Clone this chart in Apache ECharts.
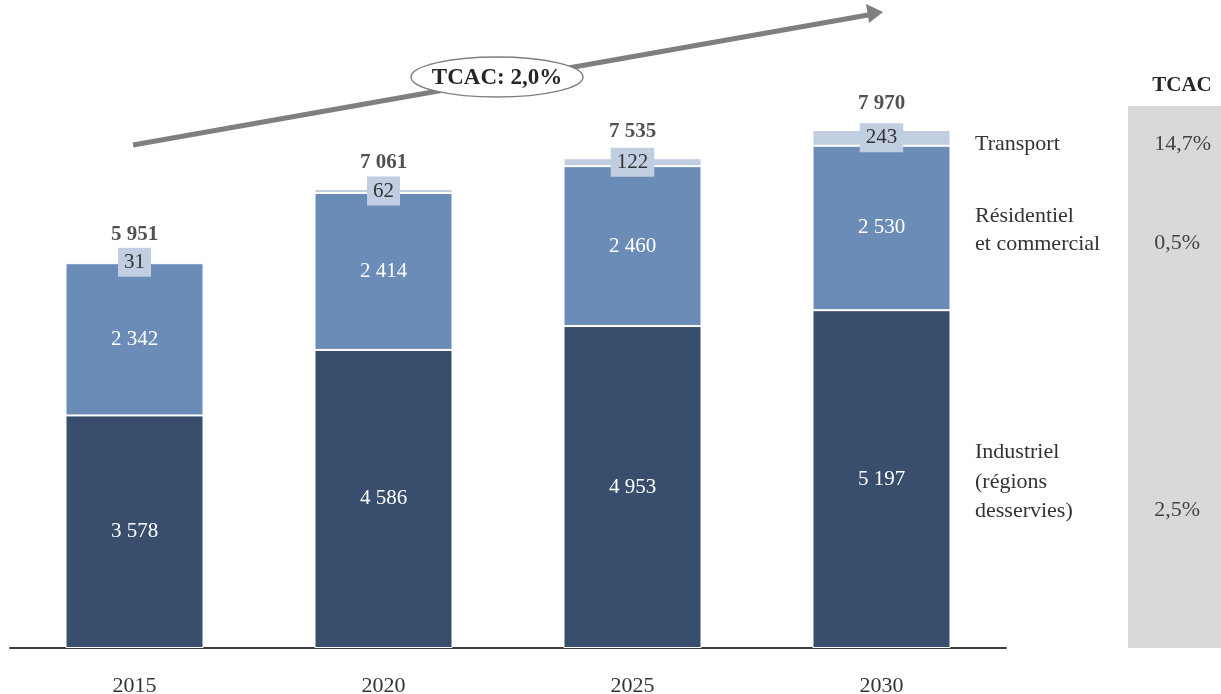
<!DOCTYPE html>
<html>
<head>
<meta charset="utf-8">
<script src="https://cdn.jsdelivr.net/npm/echarts@6/dist/echarts.min.js"></script>
<style>
  html, body { margin: 0; padding: 0; background: #fff; }
  #chart { width: 1221px; height: 694px; }
</style>
</head>
<body>
<div id="chart"></div>
<script>
// Consommation par secteur, 2015–2030
const years = ['2015', '2020', '2025', '2030'];
const industriel = [3578, 4586, 4953, 5197];
const residentiel = [2342, 2414, 2460, 2530];
const transport = [31, 62, 122, 243];
const totals = [5951, 7061, 7535, 7970];

const sectorNames = ['Transport', 'Résidentiel\net commercial', 'Industriel\n(régions\ndesservies)'];
const sectorRates = ['14,7%', '0,5%', '2,5%'];
const overallRate = 'TCAC: 2,0%';

const FONT = '"Liberation Serif", "DejaVu Serif", serif';
const fmt = v => String(v).replace(/\B(?=(\d{3})+(?!\d))/g, ' ');

const chart = echarts.init(document.getElementById('chart'));

const barBase = {
  type: 'bar',
  stack: 'total',
  barWidth: 138,
  emphasis: { disabled: true }
};

// Sector labels and growth rates on the right
const sideGraphics = [
  { type: 'rect', shape: { x: 1128, y: 106, width: 93, height: 542 }, style: { fill: '#d9d9d9' }, z: 0 },
  { type: 'text', x: 1182, y: 86, style: { text: 'TCAC', font: 'bold 21px ' + FONT, fill: '#262626', textAlign: 'center', textVerticalAlign: 'middle' } },
  { type: 'text', x: 975, y: 144, style: { text: sectorNames[0], font: '22px ' + FONT, fill: '#333', textVerticalAlign: 'middle' } },
  { type: 'text', x: 975, y: 230, style: { text: sectorNames[1], font: '22px ' + FONT, fill: '#333', textVerticalAlign: 'middle', lineHeight: 28 } },
  { type: 'text', x: 975, y: 482, style: { text: sectorNames[2], font: '22px ' + FONT, fill: '#333', textVerticalAlign: 'middle', lineHeight: 29.5 } },
  { type: 'text', x: 1211, y: 144, style: { text: sectorRates[0], font: '22px ' + FONT, fill: '#444', textAlign: 'right', textVerticalAlign: 'middle' } },
  { type: 'text', x: 1200, y: 243, style: { text: sectorRates[1], font: '22px ' + FONT, fill: '#444', textAlign: 'right', textVerticalAlign: 'middle' } },
  { type: 'text', x: 1200, y: 510, style: { text: sectorRates[2], font: '22px ' + FONT, fill: '#444', textAlign: 'right', textVerticalAlign: 'middle' } }
];

// Overall growth arrow with its oval badge
const arrowGraphics = [
  { type: 'line', shape: { x1: 133, y1: 145, x2: 868, y2: 15 }, style: { stroke: '#7f7f7f', lineWidth: 5 }, z: 5 },
  { type: 'polygon', shape: { points: [[883, 12], [866, 4], [869, 23]] }, style: { fill: '#7f7f7f' }, z: 5 },
  { type: 'ellipse', shape: { cx: 497, cy: 77, rx: 86, ry: 20 }, style: { fill: '#ffffff', stroke: '#7f7f7f', lineWidth: 1.5 }, z: 6 },
  { type: 'text', x: 497, y: 78, style: { text: overallRate, font: 'bold 23px ' + FONT, fill: '#262626', textAlign: 'center', textVerticalAlign: 'middle' }, z: 7 }
];

const insideLabel = {
  show: true, position: 'inside', color: '#ffffff', fontFamily: FONT, fontSize: 21,
  formatter: p => fmt(p.value)
};

chart.setOption({
  animation: false,
  grid: { left: 10, right: 215, top: 63, bottom: 46, outerBoundsMode: 'none', containLabel: false },
  xAxis: {
    type: 'category',
    data: years,
    axisLine: { lineStyle: { color: '#404040', width: 2 } },
    axisTick: { show: false },
    axisLabel: { color: '#333', fontFamily: FONT, fontSize: 22, margin: 27 }
  },
  yAxis: { type: 'value', min: 0, max: 9000, show: false, splitLine: { show: false } },
  series: [
    Object.assign({}, barBase, {
      name: 'Industriel',
      data: industriel,
      itemStyle: { color: '#394e6d', borderColor: '#ffffff', borderWidth: 1 },
      label: insideLabel
    }),
    Object.assign({}, barBase, {
      name: 'Résidentiel et commercial',
      data: residentiel,
      itemStyle: { color: '#6c8cb8', borderColor: '#ffffff', borderWidth: 1 },
      label: insideLabel
    }),
    Object.assign({}, barBase, {
      name: 'Transport',
      data: transport,
      itemStyle: { color: '#c1cde0', borderColor: '#ffffff', borderWidth: 1 },
      label: {
        show: true, position: 'inside', color: '#333', fontFamily: FONT, fontSize: 21,
        backgroundColor: '#c1cde0', padding: [5, 6, 3, 6],
        formatter: p => fmt(p.value)
      },
      labelLayout: { hideOverlap: false }
    }),
    {
      name: 'Total',
      type: 'scatter',
      data: totals,
      symbolSize: 0,
      silent: true,
      label: {
        show: true, position: 'top', distance: 16, color: '#262626',
        fontFamily: FONT, fontSize: 21, fontWeight: 'bold',
        formatter: p => fmt(p.value)
      },
      z: 10
    }
  ],
  graphic: sideGraphics.concat(arrowGraphics)
});
</script>
</body>
</html>
